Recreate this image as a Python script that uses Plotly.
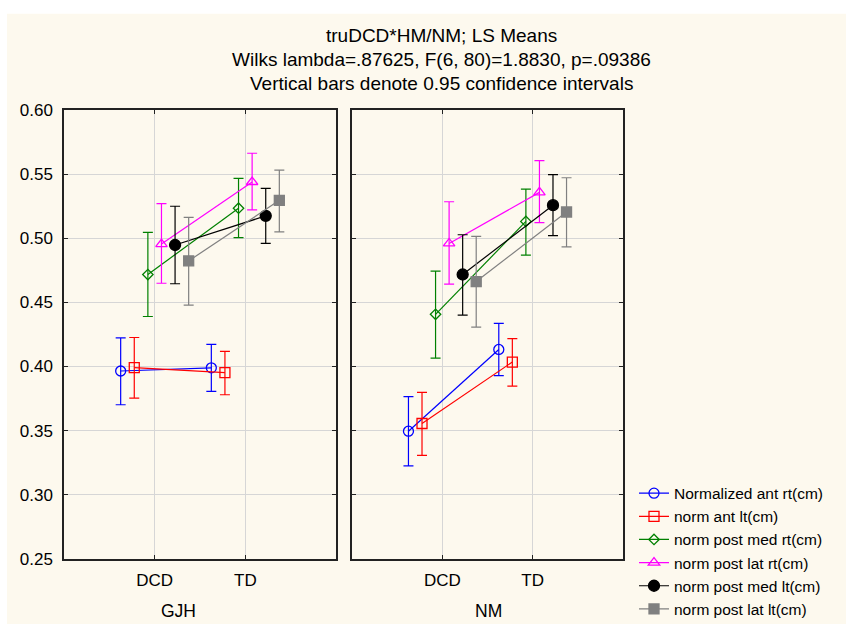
import plotly.graph_objects as go

categories = ["DCD", "TD"]
panels = ["GJH", "NM"]
series_names = ["Normalized ant rt(cm)", "norm ant lt(cm)", "norm post med rt(cm)",
                "norm post lat rt(cm)", "norm post med lt(cm)", "norm post lat lt(cm)"]

# LS means [DCD, TD] per panel, with 0.95 confidence limits
gjh_mean = [[0.3965, 0.3990], [0.3992, 0.3952], [0.4717, 0.5234],
            [0.4954, 0.5438], [0.4947, 0.5174], [0.4823, 0.5295]]
gjh_low = [[0.3702, 0.3806], [0.3753, 0.3780], [0.4390, 0.5005],
           [0.4649, 0.5221], [0.4645, 0.4959], [0.4478, 0.5050]]
gjh_high = [[0.4224, 0.4173], [0.4226, 0.4118], [0.5045, 0.5466],
            [0.5269, 0.5662], [0.5249, 0.5388], [0.5163, 0.5531]]

nm_mean = [[0.3496, 0.4133], [0.3556, 0.4035], [0.4407, 0.5131],
           [0.4959, 0.5357], [0.4717, 0.5257], [0.4662, 0.5204]]
nm_low = [[0.3226, 0.3929], [0.3307, 0.3848], [0.4065, 0.4868],
          [0.4642, 0.5121], [0.4400, 0.5020], [0.4307, 0.4932]]
nm_high = [[0.3765, 0.4337], [0.3798, 0.4218], [0.4743, 0.5383],
           [0.5284, 0.5605], [0.5027, 0.5496], [0.5015, 0.5471]]

y_ticks = [0.25, 0.30, 0.35, 0.40, 0.45, 0.50, 0.55, 0.60]

colors = ["#0000ff", "#ff0000", "#008000", "#ff00ff", "#000000", "#808080"]
symbols = ["circle-open", "square-open", "diamond-open", "triangle-up-open", "circle", "square"]
sizes = [10, 10, 8, 10, 11, 10]
offsets = [-0.375, -0.225, -0.075, 0.075, 0.225, 0.375]

FONT = "Liberation Sans, Arial, sans-serif"
W, H = 846, 634
CREAM = "#fdf9ee"

fig = go.Figure()
data_sets = [(gjh_mean, gjh_low, gjh_high, "x", "y"), (nm_mean, nm_low, nm_high, "x2", "y2")]
for p, (mean, low, high, xa, ya) in enumerate(data_sets):
    for i, name in enumerate(series_names):
        xs = [1 + offsets[i], 2 + offsets[i]]
        m = mean[i]
        plus = [high[i][k] - m[k] for k in range(2)]
        minus = [m[k] - low[i][k] for k in range(2)]
        fig.add_trace(go.Scatter(
            x=xs, y=m, mode="lines+markers", name=name,
            xaxis=xa, yaxis=ya, showlegend=(p == 0), legendgroup=name,
            line=dict(color=colors[i], width=1.2),
            marker=dict(symbol=symbols[i], size=sizes[i], color=colors[i],
                        line=dict(color=colors[i], width=1.3)),
            error_y=dict(type="data", symmetric=False, array=plus, arrayminus=minus,
                         color=colors[i], thickness=1.2, width=5),
        ))

frame = dict(showline=True, linecolor="#222222", linewidth=1.5, mirror="ticks",
             ticks="inside", ticklen=4, tickcolor="#222222",
             showgrid=True, gridcolor="#d6d6d6", gridwidth=1, zeroline=False)
x_common = dict(range=[0, 3], tickmode="array", tickvals=[1, 2], ticktext=categories,
                tickfont=dict(family=FONT, size=17, color="black"), ticklabelstandoff=5,
                **frame)
y_dom = [1 - 567 / H, 1 - 104 / H]

fig.update_layout(
    width=W, height=H,
    margin=dict(l=0, r=0, t=0, b=0),
    paper_bgcolor="white", plot_bgcolor="white",
    font=dict(family=FONT, size=17, color="black"),
    xaxis=dict(domain=[64 / W, 336 / W], anchor="y", **x_common),
    xaxis2=dict(domain=[352 / W, 623 / W], anchor="y2", **x_common),
    yaxis=dict(domain=y_dom, range=[0.25, 0.60], anchor="x",
               tickvals=y_ticks, tickformat=".2f", ticklabelstandoff=6,
               tickfont=dict(family=FONT, size=17, color="black"), **frame),
    yaxis2=dict(domain=y_dom, range=[0.25, 0.60], anchor="x2", matches="y",
                tickvals=y_ticks, showticklabels=False, **frame),
    legend=dict(x=634 / W, y=1 - 482 / H, xanchor="left", yanchor="top",
                bgcolor="rgba(0,0,0,0)", font=dict(family=FONT, size=15.5, color="black"),
                itemwidth=30, tracegroupgap=0),
    showlegend=True,
    shapes=[dict(type="rect", xref="paper", yref="paper", x0=7 / W, x1=1, y0=0, y1=1 - 5 / H,
                 fillcolor=CREAM, line=dict(width=0), layer="below")],
)

titles = ["truDCD*HM/NM; LS Means",
          "Wilks lambda=.87625, F(6, 80)=1.8830, p=.09386",
          "Vertical bars denote 0.95 confidence intervals"]
title_y = [27, 52, 77]
for txt, ty in zip(titles, title_y):
    fig.add_annotation(text=txt, x=441 / W, y=1 - ty / H, xref="paper", yref="paper",
                       xanchor="center", yanchor="middle", showarrow=False,
                       font=dict(family=FONT, size=19, color="black"))

for lbl, lx in zip(panels, [178, 488]):
    fig.add_annotation(text=lbl, x=lx / W, y=1 - 621 / H, xref="paper", yref="paper",
                       xanchor="center", yanchor="middle", showarrow=False,
                       font=dict(family=FONT, size=17.5, color="black"))

fig.write_html("out.html", config={"displayModeBar": False},
               post_script="document.body.style.margin='0';document.body.style.overflow='hidden';")
